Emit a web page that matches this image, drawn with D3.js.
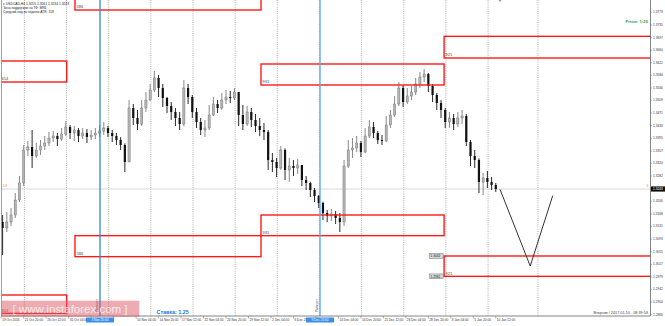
<!DOCTYPE html>
<html>
<head>
<meta charset="utf-8">
<script src="https://cdn.jsdelivr.net/npm/d3@7"></script>
<style>
body { margin: 0; background: #fff; }
svg { display: block; font-family: "Liberation Sans", Arial, sans-serif; }
</style>
</head>
<body>
<div id="the_chart"></div>
<script>
// USDCAD candles, each one covers three H4 bars (open = previous close)
const firstOpen = 1.3144;
const closes = [
    1.3126, 1.3144, 1.3165, 1.3210, 1.3261, 1.3360, 1.3369, 1.3342, 1.3360, 1.3372,
    1.3381, 1.3396, 1.3402, 1.3393, 1.3408, 1.3429, 1.3411, 1.3420, 1.3402, 1.3411,
    1.3399, 1.3405, 1.3411, 1.3417, 1.3426, 1.3411, 1.3402, 1.3390, 1.3375, 1.3324,
    1.3486, 1.3456, 1.3438, 1.3486, 1.3510, 1.3540, 1.3576, 1.3546, 1.3516, 1.3492,
    1.3474, 1.3456, 1.3438, 1.3546, 1.3519, 1.3474, 1.3444, 1.3420, 1.3426, 1.3465,
    1.3498, 1.3486, 1.3510, 1.3519, 1.3516, 1.3534, 1.3465, 1.3438, 1.3474, 1.3450,
    1.3432, 1.3420, 1.3414, 1.3330, 1.3324, 1.3306, 1.3360, 1.3300, 1.3312, 1.3306,
    1.3315, 1.3270, 1.3261, 1.3240, 1.3222, 1.3201, 1.3171, 1.3162, 1.3168, 1.3156,
    1.3144, 1.3312, 1.3360, 1.3366, 1.3381, 1.3354, 1.3402, 1.3429, 1.3411, 1.3390,
    1.3387, 1.3435, 1.3465, 1.3498, 1.3546, 1.3504, 1.3522, 1.3534, 1.3558, 1.3579,
    1.3588, 1.3552, 1.3525, 1.3501, 1.3480, 1.3444, 1.3456, 1.3438, 1.3456, 1.3462,
    1.3384, 1.3342, 1.3330, 1.3264, 1.3276, 1.3264, 1.3255, 1.3243];
const highs = [
    1.3165, 1.3174, 1.3186, 1.3231, 1.3282, 1.3375, 1.3387, 1.3420, 1.3381, 1.3390,
    1.3402, 1.3414, 1.3417, 1.3411, 1.3426, 1.3447, 1.3435, 1.3432, 1.3426, 1.3426,
    1.3423, 1.3420, 1.3426, 1.3435, 1.3444, 1.3432, 1.3420, 1.3411, 1.3399, 1.3380,
    1.3510, 1.3498, 1.3480, 1.3510, 1.3534, 1.3558, 1.3597, 1.3585, 1.3558, 1.3519,
    1.3504, 1.3486, 1.3474, 1.3570, 1.3558, 1.3525, 1.3486, 1.3456, 1.3450, 1.3495,
    1.3519, 1.3510, 1.3531, 1.3540, 1.3537, 1.3546, 1.3534, 1.3495, 1.3492, 1.3486,
    1.3468, 1.3456, 1.3441, 1.3420, 1.3351, 1.3336, 1.3372, 1.3365, 1.3336, 1.3330,
    1.3333, 1.3315, 1.3282, 1.3265, 1.3246, 1.3225, 1.3205, 1.3180, 1.3183, 1.3177,
    1.3171, 1.3330, 1.3390, 1.3396, 1.3402, 1.3387, 1.3426, 1.3450, 1.3444, 1.3417,
    1.3405, 1.3462, 1.3480, 1.3522, 1.3564, 1.3555, 1.3546, 1.3552, 1.3576, 1.3594,
    1.3603, 1.3591, 1.3558, 1.3531, 1.3510, 1.3486, 1.3474, 1.3468, 1.3474, 1.3480,
    1.3468, 1.3390, 1.3360, 1.3335, 1.3291, 1.3297, 1.3279, 1.3261];
const lows = [
    1.3045, 1.3114, 1.3132, 1.3156, 1.3204, 1.3252, 1.3342, 1.3306, 1.3336, 1.3345,
    1.3360, 1.3372, 1.3384, 1.3372, 1.3387, 1.3402, 1.3393, 1.3387, 1.3384, 1.3393,
    1.3381, 1.3390, 1.3393, 1.3399, 1.3405, 1.3399, 1.3384, 1.3375, 1.3360, 1.3294,
    1.3330, 1.3435, 1.3420, 1.3432, 1.3474, 1.3507, 1.3534, 1.3519, 1.3489, 1.3471,
    1.3450, 1.3432, 1.3420, 1.3430, 1.3498, 1.3456, 1.3426, 1.3405, 1.3399, 1.3420,
    1.3462, 1.3471, 1.3480, 1.3498, 1.3501, 1.3510, 1.3432, 1.3420, 1.3432, 1.3429,
    1.3414, 1.3402, 1.3390, 1.3300, 1.3294, 1.3279, 1.3300, 1.3270, 1.3264, 1.3282,
    1.3288, 1.3252, 1.3240, 1.3219, 1.3204, 1.3186, 1.3150, 1.3144, 1.3147, 1.3138,
    1.3114, 1.3132, 1.3306, 1.3336, 1.3354, 1.3339, 1.3351, 1.3396, 1.3396, 1.3378,
    1.3375, 1.3384, 1.3426, 1.3459, 1.3492, 1.3489, 1.3498, 1.3510, 1.3525, 1.3546,
    1.3564, 1.3534, 1.3504, 1.3480, 1.3456, 1.3426, 1.3426, 1.3420, 1.3429, 1.3438,
    1.3372, 1.3312, 1.3306, 1.3231, 1.3225, 1.3246, 1.3240, 1.3234];

// time axis: one label every 16 H4 bars
const timeLabels = ["19 Oct 2016", "21 Oct 20:00", "26 Oct 12:00", "31 Oct 04:00", "2 Nov 20:00",
    "7 Nov 12:00", "10 Nov 04:00", "14 Nov 20:00", "17 Nov 12:00", "22 Nov 04:00", "24 Nov 20:00",
    "29 Nov 12:00", "2 Dec 04:00", "6 Dec 20:00", "9 Dec 12:00", "14 Dec 04:00", "16 Dec 20:00",
    "21 Dec 12:00", "26 Dec 04:00", "28 Dec 20:00", "3 Jan 04:00", "5 Jan 20:00", "10 Jan 12:00"];
const priceTicks = [1.3773, 1.3735, 1.3697, 1.3660, 1.3622, 1.3584, 1.3546, 1.3509, 1.3471, 1.3433,
    1.3395, 1.3357, 1.3320, 1.3282, 1.3244, 1.3206, 1.3168, 1.3131, 1.3093, 1.3055,
    1.3017, 1.2979, 1.2942, 1.2904, 1.2866];
const weekLines = [16.5, 46.5, 76.5, 106.5, 136.5, 166.5, 196.5, 226.5, 256.5, 286.5, 316.5, 346.5, 382];

// supply / demand zones (bar index from..to, price top..bottom)
const zones = [
    { name: "586", from: 52.5, to: 184.9, top: 1.3830, bottom: 1.3780 },
    { name: "614", from: -5, to: 46.6, top: 1.3627, bottom: 1.3564 },
    { name: "931", from: 184.9, to: 315.2, top: 1.3618, bottom: 1.3555 },
    { name: "921", from: 315.2, to: 480, top: 1.3701, bottom: 1.3636 },
    { name: "931", from: 184.9, to: 315.2, top: 1.3165, bottom: 1.3103 },
    { name: "586", from: 52.5, to: 184.9, top: 1.3103, bottom: 1.3040 },
    { name: "921", from: 315.2, to: 480, top: 1.3042, bottom: 1.2981, tags: true },
    { name: "614", from: -5, to: 46.6, top: 1.2925, bottom: 1.2870 }
];

const markerBars = [70.3, 226.9];
const markerDates = ["3 Nov 20:00", "9 Dec 20:00"];

const forecastBars = [355, 376.5, 392.5];
const forecastPrices = [1.3242, 1.3012, 1.3223];

var w = 665, h = 326;
var plotRight = 650.5, plotBottom = 316;

var xscale = d3.scaleLinear().domain([0, 352]).range([1.2, 495.8]); // H4 bar -> px
var yscale = d3.scaleLinear().domain([1.2862, 1.3810]).range([plotBottom, 0]);

var svg = d3.select("#the_chart")
    .append("svg")
    .attr("width", w)
    .attr("height", h);

svg.append("clipPath").attr("id", "plot")
    .append("rect").attr("x", 1.5).attr("y", 0).attr("width", plotRight - 1.5).attr("height", plotBottom);

var plot = svg.append("g").attr("clip-path", "url(#plot)");

// weekly separators
plot.selectAll("line.week")
    .data(weekLines)
    .enter().append("line")
    .attr("class", "week")
    .attr("x1", d => xscale(d)).attr("x2", d => xscale(d))
    .attr("y1", 0).attr("y2", plotBottom)
    .attr("stroke", "#8c8c8c")
    .attr("stroke-width", 0.7)
    .attr("stroke-dasharray", "1,1.2");

var last = closes[closes.length - 1];

// bid line
plot.append("line")
    .attr("x1", 0).attr("x2", plotRight)
    .attr("y1", yscale(last)).attr("y2", yscale(last))
    .attr("stroke", "#cfcfcf")
    .attr("stroke-width", 0.8);

var candles = closes.map((c, i) => ({
    bar: 3 * i + 1,
    o: i ? closes[i - 1] : firstOpen,
    h: highs[i], l: lows[i], c: c
}));

var cg = plot.selectAll("g.candle")
    .data(candles)
    .enter().append("g")
    .attr("class", "candle");

cg.append("line")
    .attr("x1", d => xscale(d.bar)).attr("x2", d => xscale(d.bar))
    .attr("y1", d => yscale(d.h)).attr("y2", d => yscale(d.l))
    .attr("stroke", d => d.c >= d.o ? "#7c7c7c" : "#111")
    .attr("stroke-width", 0.9);

cg.append("rect")
    .attr("x", d => xscale(d.bar) - 1.1)
    .attr("width", 2.2)
    .attr("y", d => yscale(Math.max(d.o, d.c)))
    .attr("height", d => Math.max(0.8, Math.abs(yscale(d.o) - yscale(d.c))))
    .attr("fill", d => d.c >= d.o ? "#b4b4b4" : "#111")
    .attr("stroke", d => d.c >= d.o ? "#6c6c6c" : "none")
    .attr("stroke-width", 0.4);

// zones
plot.selectAll("rect.zone")
    .data(zones)
    .enter().append("rect")
    .attr("class", "zone")
    .attr("x", d => xscale(d.from))
    .attr("width", d => xscale(d.to) - xscale(d.from))
    .attr("y", d => yscale(d.top))
    .attr("height", d => yscale(d.bottom) - yscale(d.top))
    .attr("fill", "none")
    .attr("stroke", "#ff1a1a")
    .attr("stroke-width", 1.4);

plot.selectAll("text.zone")
    .data(zones)
    .enter().append("text")
    .attr("class", "zone")
    .attr("x", d => Math.max(xscale(d.from), 0) + 1.5)
    .attr("y", d => yscale(d.bottom) - 1.6)
    .attr("font-size", 4)
    .attr("fill", "#444")
    .text(d => d.name);

// blue marker lines
plot.selectAll("line.marker")
    .data(markerBars)
    .enter().append("line")
    .attr("class", "marker")
    .attr("x1", d => xscale(d)).attr("x2", d => xscale(d))
    .attr("y1", 0).attr("y2", plotBottom)
    .attr("stroke", (d, i) => i ? "#5aa6f0" : "#2f86e6")
    .attr("stroke-width", 1.3);

plot.selectAll("text.marker")
    .data(markerBars)
    .enter().append("text")
    .attr("class", "marker")
    .attr("transform", d => `translate(${xscale(d) - 1.6},312) rotate(-90)`)
    .attr("font-size", 3)
    .attr("fill", "#555")
    .text("Разворот");

// forecast zigzag
var line = d3.line()
    .x((d, i) => xscale(forecastBars[i]))
    .y(d => yscale(d));
plot.append("path")
    .attr("d", line(forecastPrices))
    .attr("fill", "none")
    .attr("stroke", "#333")
    .attr("stroke-width", 1);

// price tags on the lower 921 zone
zones.filter(d => d.tags).forEach(z => {
    [z.top, z.bottom].forEach(p => {
        var x = xscale(z.from) - 1;
        svg.append("rect")
            .attr("x", x - 13.5).attr("y", yscale(p) - 2.4)
            .attr("width", 13.5).attr("height", 4.8)
            .attr("fill", "#d6d6d6").attr("stroke", "#555").attr("stroke-width", 0.4);
        svg.append("text")
            .attr("x", x - 12.5).attr("y", yscale(p) + 1.2)
            .attr("font-size", 3.2).attr("fill", "#222")
            .text(p.toFixed(4));
    });
});

// frame
svg.append("line").attr("x1", 1.5).attr("x2", 1.5).attr("y1", 0).attr("y2", plotBottom)
    .attr("stroke", "#888").attr("stroke-width", 0.8);
svg.append("line").attr("x1", plotRight).attr("x2", plotRight).attr("y1", 0).attr("y2", plotBottom)
    .attr("stroke", "#666").attr("stroke-width", 0.8);
svg.append("line").attr("x1", 1.5).attr("x2", plotRight).attr("y1", plotBottom).attr("y2", plotBottom)
    .attr("stroke", "#666").attr("stroke-width", 0.8);

// price axis
var ya = svg.append("g");
ya.selectAll("line").data(priceTicks).enter().append("line")
    .attr("x1", plotRight).attr("x2", plotRight + 1.5)
    .attr("y1", d => yscale(d)).attr("y2", d => yscale(d))
    .attr("stroke", "#666").attr("stroke-width", 0.5);
ya.selectAll("text").data(priceTicks).enter().append("text")
    .attr("x", plotRight + 2.5)
    .attr("y", d => yscale(d) + 1.1)
    .attr("font-size", 3.2)
    .attr("fill", "#333")
    .text(d => d.toFixed(4));

// time axis; labels hidden under a marker's date box are left out
var boxed = x => markerBars.some(b => Math.abs(xscale(b) - x) < 14);
var times = timeLabels.map((t, i) => ({ t: t, x: xscale(i * 16) }));
var xa = svg.append("g");
xa.selectAll("line").data(times).enter().append("line")
    .attr("x1", d => d.x).attr("x2", d => d.x)
    .attr("y1", plotBottom).attr("y2", plotBottom + 2.5)
    .attr("stroke", "#666").attr("stroke-width", 0.5);
xa.selectAll("text").data(times.filter(d => !boxed(d.x))).enter().append("text")
    .attr("x", d => d.x + 1)
    .attr("y", 321)
    .attr("font-size", 3.2)
    .attr("fill", "#333")
    .text(d => d.t);

// blue date boxes for the marker lines
markerBars.forEach((b, i) => {
    var x = xscale(b);
    svg.append("rect")
        .attr("x", x - 14).attr("y", 317.5).attr("width", 28).attr("height", 5)
        .attr("fill", "#3c8fe6");
    svg.append("text")
        .attr("x", x).attr("y", 321.2)
        .attr("text-anchor", "middle")
        .attr("font-size", 3.2).attr("fill", "#fff")
        .text(markerDates[i]);
});

// current price box
svg.append("rect")
    .attr("x", plotRight + 0.5).attr("y", yscale(last) - 2.6)
    .attr("width", 14).attr("height", 5.2)
    .attr("fill", "#111");
svg.append("text")
    .attr("x", plotRight + 2.5).attr("y", yscale(last) + 1.2)
    .attr("font-size", 3.2).attr("fill", "#fff")
    .text(last.toFixed(4));

// orange level marks next to the bid line
svg.append("text").attr("x", 2.5).attr("y", yscale(last) - 2.5)
    .attr("font-size", 3.4).attr("fill", "#f08040").text("1/3");
svg.append("text").attr("x", 646.5).attr("y", yscale(last) - 2.5)
    .attr("font-size", 3.4).attr("fill", "#f08040").text("3");

// chart header
var header = ["▾ USDCAD,H4 1.3255 1.3261 1.3234 1.3243",
    "Зона поддержки на ТФ: MN1",
    "Средний ход за неделю ATR: 118"];
svg.selectAll("text.header")
    .data(header)
    .enter().append("text")
    .attr("class", "header")
    .attr("x", 3)
    .attr("y", (d, i) => 4.6 + i * 4)
    .attr("font-size", 3.3)
    .attr("fill", "#222")
    .text(d => d);

// chart shift marker
svg.append("path").attr("d", "M498.5,0 L501.5,0 L500,2 Z").attr("fill", "#999");

svg.append("text")
    .attr("x", 648).attr("y", 22.6)
    .attr("text-anchor", "end")
    .attr("font-size", 4.2).attr("font-weight", "bold")
    .attr("fill", "#2e9a4e")
    .text("Prism: 1:25");

svg.append("text")
    .attr("x", 156.5).attr("y", 314.2)
    .attr("font-size", 5.4).attr("font-weight", "bold")
    .attr("fill", "#2277dd")
    .text("Ставка: 1.25");

svg.append("text")
    .attr("x", 648).attr("y", 314.3)
    .attr("text-anchor", "end")
    .attr("font-size", 3.8)
    .attr("fill", "#444")
    .text("Вторник / 2017.01.10 - 08:39:58");

// watermark
svg.append("rect")
    .attr("x", 1.7).attr("y", 300.7).attr("width", 137.6).attr("height", 16)
    .attr("fill", "#dc5a66").attr("opacity", 0.5);
svg.append("text")
    .attr("x", 70).attr("y", 313.4)
    .attr("text-anchor", "middle")
    .attr("font-size", 11.5)
    .attr("fill", "#fff")
    .attr("opacity", 0.75)
    .text("[ www.instaforex.com ]");
</script>
</body>
</html>
